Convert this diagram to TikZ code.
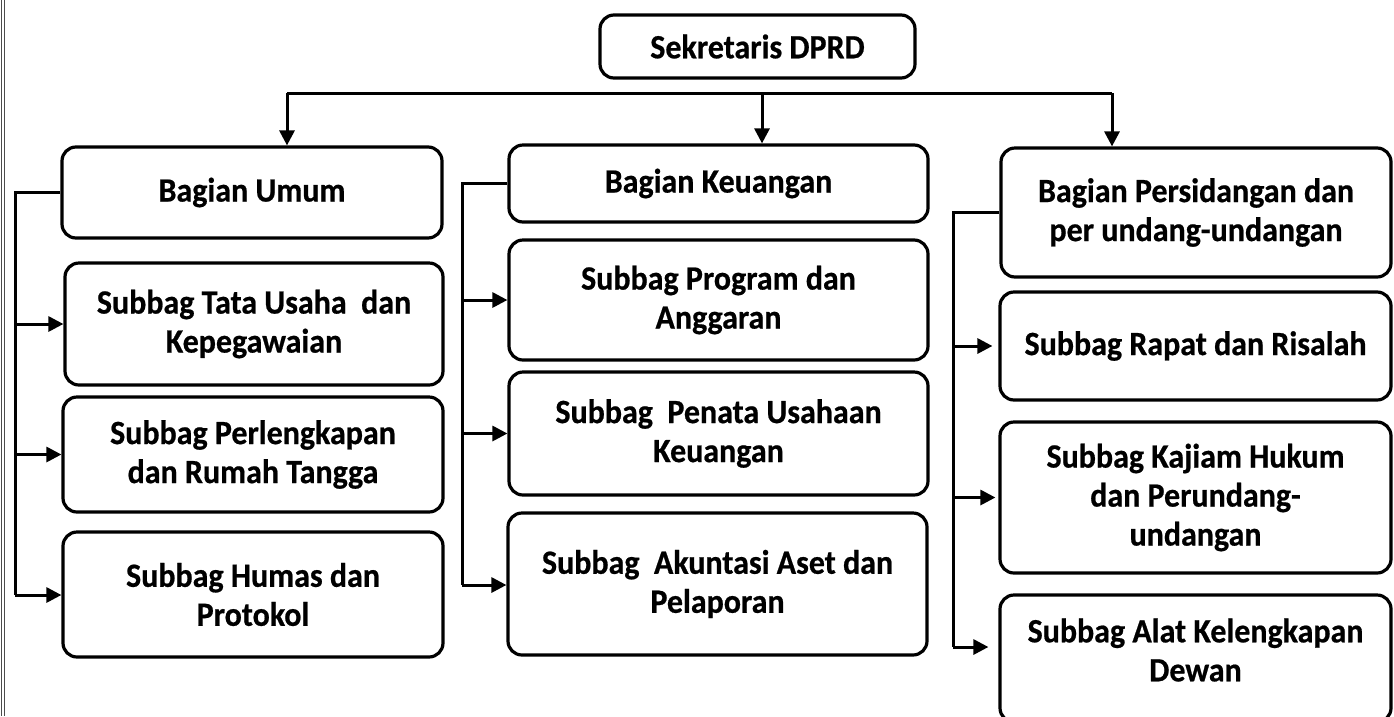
\documentclass[tikz,border=0pt]{standalone}
\usepackage{fontspec}
\setmainfont{Carlito}[BoldFeatures={FakeStretch=0.94, FakeBold=0.6}]
\usetikzlibrary{arrows.meta}
\tikzset{
  box/.style={draw, line width=3.2pt, rounded corners=14pt, inner sep=0pt, align=center,
              font=\bfseries\fontsize{34}{39}\selectfont},
  txt/.style={inner sep=0pt, align=center, font=\bfseries\fontsize{34}{39}\selectfont},
  conn/.style={line width=3pt},
  arr/.style={conn, -{Triangle[length=15pt,width=15pt]}},
  edge/.style={line width=0.9pt, black!70},
}
\begin{document}
\begin{tikzpicture}[x=1pt,y=-1pt]
\path[use as bounding box, clip] (0,0) rectangle (1394,716);
% scan border at the left edge
\draw[edge] (1.5,0) -- (1.5,716);
\draw[edge] (4.5,0) -- (4.5,716);

% top
\node[box, minimum width=315, minimum height=63] (sek) at (757.5,46.5) {Sekretaris DPRD};

% column 1
\node[box, minimum width=380, minimum height=91]  (umum)  at (252,192.5) {Bagian Umum};
\node[box, minimum width=378, minimum height=122] (tata)  at (254,324)   {Subbag Tata Usaha~~dan\\Kepegawaian};
\node[box, minimum width=380, minimum height=115] (perl)  at (253,454.5) {Subbag Perlengkapan\\dan Rumah Tangga};
\node[box, minimum width=380, minimum height=125] (humas) at (253,594.5) {Subbag Humas dan\\Protokol};

% column 2
\node[box, minimum width=419, minimum height=77]  (keu)  at (718.5,183.5) {Bagian Keuangan};
\node[box, minimum width=419, minimum height=120] (prog) at (718.5,300)   {Subbag Program dan\\Anggaran};
\node[box, minimum width=419, minimum height=123] (pen)  at (718.5,433.5) {Subbag~~Penata Usahaan\\Keuangan};
\node[box, minimum width=419, minimum height=142] (aku)  at (717.5,584)   {Subbag~~Akuntasi Aset dan\\Pelaporan};

% column 3
\node[box, minimum width=390, minimum height=129] (pers)  at (1196,212.5)  {Bagian Persidangan dan\\per undang-undangan};
\node[box, minimum width=391, minimum height=108] (rapat) at (1195.5,346)  {Subbag Rapat dan Risalah};
\node[box, minimum width=391, minimum height=151] (kaj)   at (1195.5,497.5) {Subbag Kajiam Hukum\\dan Perundang-\\undangan};
\node[box, minimum width=391, minimum height=127] (alat)  at (1195.5,658.5) {};
\node[txt] (alattxt) at (1195.5,650) {Subbag Alat Kelengkapan\\Dewan};

% bus from the top
\coordinate (b1) at (287,93);
\coordinate (b2) at (1112,93);
\coordinate (b3) at (762,93);
\draw[conn] (b1) -- (b2);
\draw[arr] (b1) -- (b1 |- umum.north);
\draw[arr] (b3) -- (b3 |- keu.north);
\draw[arr] (b2) -- (b2 |- pers.north);

% column 1 trunk
\coordinate (t1a) at (15,192.5);
\coordinate (t1b) at (15,595);
\draw[conn] (umum.west) -- (t1a) -- (t1b);
\draw[arr] (t1a |- tata.west) -- (tata.west);
\draw[arr] (t1a |- perl.west) -- (perl.west);
\draw[arr] (t1b) -- (t1b -| humas.west);

% column 2 trunk
\coordinate (t2a) at (462,183.5);
\coordinate (t2b) at (462,585);
\draw[conn] (keu.west) -- (t2a) -- (t2b);
\draw[arr] (t2a |- prog.west) -- (prog.west);
\draw[arr] (t2a |- pen.west) -- (pen.west);
\draw[arr] (t2b) -- (t2b -| aku.west);

% column 3 trunk
\coordinate (t3a) at (953,212.5);
\coordinate (t3b) at (953,647);
\draw[conn] (pers.west) -- (t3a) -- (t3b);
\draw[arr, shorten >=6pt] (t3a |- rapat.west) -- (rapat.west);
\draw[arr, shorten >=3pt] (t3a |- kaj.west) -- (kaj.west);
\draw[arr, shorten >=10pt] (t3b) -- (t3b -| alat.west);
\end{tikzpicture}
\end{document}
